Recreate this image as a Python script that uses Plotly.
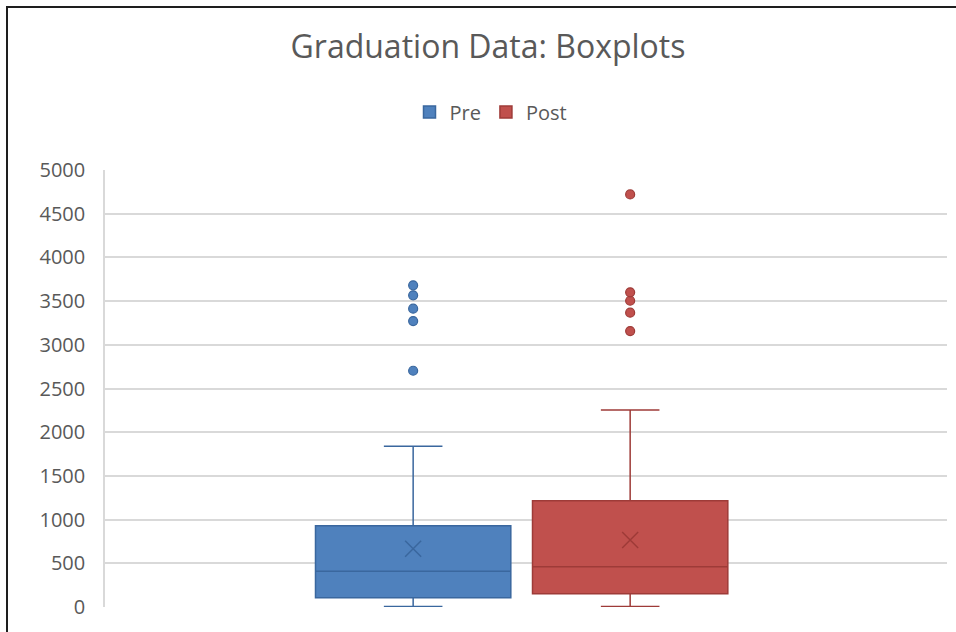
import plotly.graph_objects as go

# Summary statistics for each group (graduation counts)
groups = ["Pre", "Post"]
q1 = [106, 152]
median = [408, 461]
q3 = [930, 1216]
lower_whisker = [5, 5]
upper_whisker = [1838, 2254]
means = [667, 766]
pre_outliers = [2703, 3272, 3413, 3566, 3680]
post_outliers = [3157, 3367, 3504, 3600, 4721]
outliers = [pre_outliers, post_outliers]

y_ticks = [0, 500, 1000, 1500, 2000, 2500, 3000, 3500, 4000, 4500, 5000]

fill_colors = ["#4F81BD", "#C0504D"]
edge_colors = ["#3A679E", "#9E3B38"]

W, H = 956, 632
M_L, M_R, M_T, M_B = 105, 9, 170, 25

fig = go.Figure()

for i, g in enumerate(groups):
    fig.add_trace(go.Box(
        name=g,
        x=[g],
        q1=[q1[i]], median=[median[i]], q3=[q3[i]],
        lowerfence=[lower_whisker[i]], upperfence=[upper_whisker[i]],
        boxpoints=False,
        width=0.9,
        fillcolor=fill_colors[i],
        line=dict(color=edge_colors[i], width=1.5),
        whiskerwidth=0.3,
        hoverinfo="skip",
        legendgroup=g,
    ))
    fig.add_trace(go.Scatter(
        x=[g] * len(outliers[i]), y=outliers[i],
        mode="markers",
        marker=dict(symbol="circle", size=9, color=fill_colors[i],
                    line=dict(color=edge_colors[i], width=1.2)),
        showlegend=False, legendgroup=g,
    ))
    fig.add_trace(go.Scatter(
        x=[g], y=[means[i]],
        mode="markers",
        marker=dict(symbol="x-thin", size=16,
                    line=dict(color=edge_colors[i], width=1.5)),
        showlegend=False, legendgroup=g,
    ))

plot_w = W - M_L - M_R
plot_h = H - M_T - M_B


def px_x(px):
    return (px - M_L) / plot_w


def px_y(py):
    return (H - M_B - py) / plot_h


# chart frame edges (top and left)
frame = dict(color="#1e1e1e", width=2)
shapes = [
    dict(type="line", xref="paper", yref="paper",
         x0=px_x(6), x1=px_x(W + 2), y0=px_y(7), y1=px_y(7), line=frame),
    dict(type="line", xref="paper", yref="paper",
         x0=px_x(7), x1=px_x(7), y0=px_y(6), y1=px_y(H + 2), line=frame),
]

fig.update_layout(
    width=W, height=H,
    margin=dict(l=M_L, r=M_R, t=M_T, b=M_B),
    paper_bgcolor="white", plot_bgcolor="white",
    font=dict(family="Open Sans", color="#595959"),
    title=dict(text="Graduation Data: Boxplots",
               font=dict(family="Open Sans", size=32, color="#595959"),
               x=488 / W, xanchor="center",
               y=1 - 47 / H, yanchor="middle", yref="container"),
    legend=dict(orientation="h", x=px_x(491), xanchor="center",
                y=px_y(112), yanchor="middle",
                font=dict(size=20, color="#595959"),
                bgcolor="rgba(0,0,0,0)"),
    boxmode="overlay",
    showlegend=True,
    shapes=shapes,
    xaxis=dict(type="category", categoryorder="array", categoryarray=groups,
               range=[-1.42, 2.46], showticklabels=False, showgrid=False,
               zeroline=False, showline=False, ticks=""),
    yaxis=dict(range=[0, 5000], tickvals=y_ticks,
               tickfont=dict(size=20, color="#595959"),
               showgrid=True, gridcolor="#D9D9D9", gridwidth=1.5,
               zeroline=False, showline=True, linecolor="#D9D9D9",
               linewidth=1.5, ticks="", ticklabelstandoff=14),
)

fig.write_html("out.html")
